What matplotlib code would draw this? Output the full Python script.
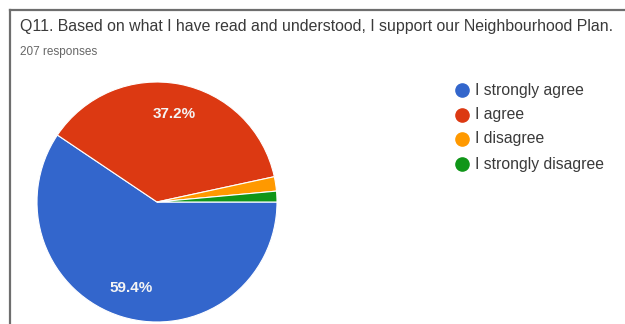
import matplotlib
matplotlib.use("Agg")
import matplotlib.pyplot as plt
from matplotlib.lines import Line2D

title = "Q11. Based on what I have read and understood, I support our Neighbourhood Plan."
subtitle = "207 responses"
categories = ["I strongly agree", "I agree", "I disagree", "I strongly disagree"]
counts = [123, 77, 4, 3]
colors = ["#3366CC", "#DC3912", "#FF9900", "#109618"]

W, H = 625, 324
fig = plt.figure(figsize=(W / 100, H / 100), dpi=100)
plt.rcParams['font.family'] = ['Liberation Sans', 'DejaVu Sans']

# frame lines
fig.add_artist(Line2D([10 / W, 1], [1 - 10 / H, 1 - 10 / H], color="#6e6e6e", lw=1.6, transform=fig.transFigure))
fig.add_artist(Line2D([10 / W, 10 / W], [1 - 10 / H, 0], color="#6e6e6e", lw=1.6, transform=fig.transFigure))

fig.text(20 / W, 1 - 27 / H, title, fontsize=11.4, color="#3a3a3a", va="center", ha="left")
fig.text(20 / W, 1 - 52 / H, subtitle, fontsize=8.5, color="#666666", va="center", ha="left")

cx, cy, r = 157, 202, 120
ax = fig.add_axes([(cx - r) / W, 1 - (cy + r) / H, 2 * r / W, 2 * r / H])

def fmt(p):
    return f"{p:.1f}%" if p > 5 else ""

wedges, texts, autotexts = ax.pie(
    counts, colors=colors, startangle=0, counterclock=False,
    autopct=fmt, pctdistance=0.75,
    wedgeprops=dict(edgecolor="white", linewidth=0.8),
    textprops=dict(color="#f4f4f4", fontsize=11, fontweight="bold"),
)
ax.set_xlim(-1, 1)
ax.set_ylim(-1, 1)
ax.set_aspect("equal")
ax.axis("off")

# legend
ys = [90, 115, 139, 164]
for cat, col, y in zip(categories, colors, ys):
    fig.add_artist(Line2D([462 / W], [1 - y / H], marker="o", markersize=9.5, color=col,
                          linestyle="none", transform=fig.transFigure))
    fig.text(475 / W, 1 - y / H, cat, fontsize=11.3, color="#3a3a3a", va="center", ha="left")

fig.savefig("out.png", dpi=100)
